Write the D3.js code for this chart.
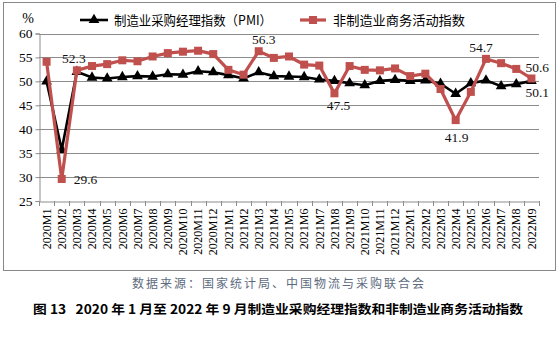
<!DOCTYPE html>
<html><head><meta charset="utf-8">
<script src="https://cdn.jsdelivr.net/npm/d3@7"></script>
<style>body{margin:0;background:#fff}svg{display:block}</style>
</head><body><svg id="c" width="560" height="337"></svg>
<script>
const months = ["2020M1","2020M2","2020M3","2020M4","2020M5","2020M6","2020M7","2020M8","2020M9","2020M10","2020M11","2020M12",
"2021M1","2021M2","2021M3","2021M4","2021M5","2021M6","2021M7","2021M8","2021M9","2021M10","2021M11","2021M12",
"2022M1","2022M2","2022M3","2022M4","2022M5","2022M6","2022M7","2022M8","2022M9"];
const pmi = [50.0,35.7,52.0,50.8,50.6,50.9,51.1,51.0,51.5,51.4,52.1,51.9,
51.3,50.6,51.9,51.1,51.0,50.9,50.4,50.1,49.6,49.2,50.1,50.3,
50.1,50.2,49.5,47.4,49.6,50.2,49.0,49.4,50.1];
const nonMfg = [54.1,29.6,52.3,53.2,53.6,54.4,54.2,55.2,55.9,56.2,56.4,55.7,
52.4,51.4,56.3,54.9,55.2,53.5,53.3,47.5,53.2,52.4,52.3,52.7,
51.1,51.6,48.4,41.9,47.8,54.7,53.8,52.6,50.6];
const yTicks = [25,30,35,40,45,50,55,60];
const seriesNames = ["制造业采购经理指数（PMI）","非制造业商务活动指数"];
const caption = "数据来源：国家统计局、中国物流与采购联合会";
const title = "图 13   2020 年 1 月至 2022 年 9 月制造业采购经理指数和非制造业商务活动指数";
// labelled points: [series, index, dx, dy, anchor]
const labels = [
  ["n",2,-3,-7,"middle"],["n",1,12,5,"start"],["n",14,5,-7,"middle"],["n",19,4,17,"middle"],
  ["n",27,1,22,"middle"],["n",29,-5,-7,"middle"],["n",32,-6,-6,"start"],["p",32,-6,16,"start"]
];

const RED = "#c0504d";
const svg = d3.select("#c");
const pL = 39, pR = 539, pT = 33.5, pB = 201;
const x = d3.scaleBand().domain(months).range([pL, pR]);
const y = d3.scaleLinear().domain([25,60]).range([pB, pT]);
const cx = d => x(d) + x.bandwidth()/2;

svg.append("rect").attr("x",3.5).attr("y",2.5).attr("width",552).attr("height",268)
  .attr("fill","none").attr("stroke","#888").attr("stroke-width",1);

// grid
svg.append("g").selectAll("line").data(yTicks.filter(t=>t>25)).join("line")
  .attr("x1",pL).attr("x2",pR).attr("y1",d=>Math.round(y(d))+0.5).attr("y2",d=>Math.round(y(d))+0.5)
  .attr("stroke","#8c8c8c").attr("stroke-width",1);

// y axis
const ya = svg.append("g").attr("transform",`translate(${pL+0.5},0)`)
  .call(d3.axisLeft(y).tickValues(yTicks).tickSize(4).tickPadding(3));
ya.select(".domain").attr("stroke","#8c8c8c");
ya.selectAll(".tick line").attr("stroke","#8c8c8c");
ya.selectAll("text").attr("font-family","'Liberation Serif',serif").attr("font-size","13.5px").attr("fill","#000");

// x axis
const xa = svg.append("g").attr("transform",`translate(0,${Math.round(pB)+0.5})`)
  .call(d3.axisBottom(x).tickSize(0));
xa.select(".domain").attr("stroke","#8c8c8c");
xa.selectAll(".tick line").remove();
xa.selectAll("text").attr("font-family","'Liberation Serif',serif").attr("font-size","12px").attr("fill","#000")
  .attr("transform","rotate(-90)").attr("text-anchor","end").attr("dx","-7px").attr("dy","0.35em").attr("y",0).attr("x",0);
// boundary ticks
svg.append("g").selectAll("line").data(d3.range(months.length+1)).join("line")
  .attr("x1",i=>Math.round(pL + i*x.step())+0.5).attr("x2",i=>Math.round(pL + i*x.step())+0.5)
  .attr("y1",Math.round(pB)).attr("y2",Math.round(pB)+5).attr("stroke","#8c8c8c");

const line = d3.line().x((d,i)=>cx(months[i])).y(d=>y(d));
svg.append("path").datum(pmi).attr("d",line).attr("fill","none").attr("stroke","#000").attr("stroke-width",2.6);
svg.append("g").selectAll("path").data(pmi).join("path")
  .attr("d",d3.symbol(d3.symbolTriangle,50)).attr("transform",(d,i)=>`translate(${cx(months[i])},${y(d)})`).attr("fill","#000");
svg.append("path").datum(nonMfg).attr("d",line).attr("fill","none").attr("stroke",RED).attr("stroke-width",3.2);
svg.append("g").selectAll("rect").data(nonMfg).join("rect")
  .attr("x",(d,i)=>cx(months[i])-4).attr("y",d=>y(d)-4).attr("width",8).attr("height",8).attr("fill",RED);

// data labels
svg.append("g").selectAll("text").data(labels).join("text")
  .attr("x",d=>cx(months[d[1]])+d[2])
  .attr("y",d=>y((d[0]==="n"?nonMfg:pmi)[d[1]])+d[3])
  .attr("text-anchor",d=>d[4])
  .attr("font-family","'Liberation Serif',serif").attr("font-size","13.5px").attr("fill","#111")
  .text(d=>(d[0]==="n"?nonMfg:pmi)[d[1]].toFixed(1));

// % label
svg.append("text").attr("x",28).attr("y",23).attr("text-anchor","middle")
  .attr("font-family","'Liberation Serif',serif").attr("font-size","14px").text("%");

// legend
const lg = svg.append("g").attr("font-family","'Noto Sans CJK SC',sans-serif").attr("font-size","13px");
lg.append("line").attr("x1",80).attr("x2",108).attr("y1",20).attr("y2",20).attr("stroke","#000").attr("stroke-width",2.6);
lg.append("path").attr("d",d3.symbol(d3.symbolTriangle,50)).attr("transform","translate(94,20)");
lg.append("text").attr("x",114).attr("y",24.5).attr("textLength",158).attr("lengthAdjust","spacingAndGlyphs").text(seriesNames[0]);
lg.append("line").attr("x1",300).attr("x2",326).attr("y1",20).attr("y2",20).attr("stroke",RED).attr("stroke-width",3.2);
lg.append("rect").attr("x",309).attr("y",16).attr("width",8).attr("height",8).attr("fill",RED);
lg.append("text").attr("x",333).attr("y",24.5).attr("textLength",132).attr("lengthAdjust","spacingAndGlyphs").text(seriesNames[1]);

// caption & title
svg.append("text").attr("x",132).attr("y",288).attr("font-family","'Noto Sans CJK SC',sans-serif")
  .attr("font-size","12px").attr("fill","#5d6b7e").attr("textLength",292).attr("lengthAdjust","spacing").text(caption);
svg.append("text").attr("x",33).attr("y",314).attr("font-family","'Noto Sans CJK SC',sans-serif").attr("font-weight","bold")
  .attr("font-size","12.5px").attr("fill","#000").attr("textLength",490).attr("lengthAdjust","spacingAndGlyphs").attr("xml:space","preserve").text(title);
</script></body></html>
